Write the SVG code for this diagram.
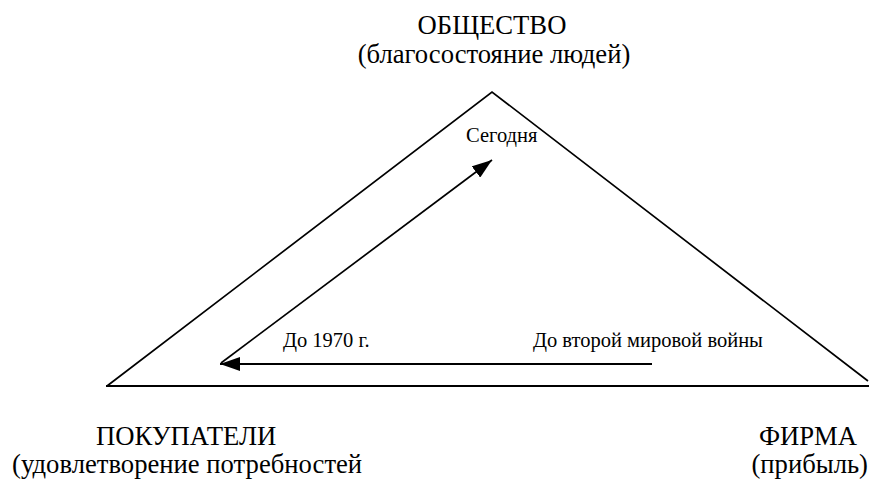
<svg xmlns="http://www.w3.org/2000/svg" width="869" height="480" viewBox="0 0 869 480">
<style>
.big { font-size: 26.67px; }
.small { font-size: 20.5px; }
.ln { stroke: #000; stroke-width: 2; fill: none; }
.thin { stroke: #000; stroke-width: 1.7; fill: none; }
</style>
<defs>
<marker id="ah2" viewBox="0 0 20 14" refX="20" refY="7" markerWidth="20" markerHeight="14" markerUnits="userSpaceOnUse" orient="auto">
<path d="M0,0 L20,7 L0,14 z" fill="#000"/>
</marker>
</defs>
<rect width="869" height="480" fill="#fff"/>
<g id="triangle">
<path class="thin" d="M107,386 L492,92 L868,381"/>
<line class="ln" x1="106" y1="386" x2="869" y2="386"/>
</g>
<g font-family="Liberation Serif, Times New Roman, DejaVu Serif, serif" fill="#000">
<g id="society">
<text class="big" x="492" y="34" text-anchor="middle">ОБЩЕСТВО</text>
<text class="big" x="494" y="63" text-anchor="middle">(благосостояние людей)</text>
</g>
<g id="buyers">
<text class="big" x="96" y="445">ПОКУПАТЕЛИ</text>
<text class="big" x="12" y="473">(удовлетворение потребностей</text>
</g>
<g id="firm">
<text class="big" x="857" y="445" text-anchor="end">ФИРМА</text>
<text class="big" x="868" y="473" text-anchor="end">(прибыль)</text>
</g>
<g id="labels">
<text class="small" x="466" y="142">Сегодня</text>
<text class="small" x="283" y="347">До 1970 г.</text>
<text class="small" x="533" y="347">До второй мировой войны</text>
</g>
</g>
<g id="connectors">
<line class="ln" x1="652" y1="364" x2="220" y2="364" marker-end="url(#ah2)"/>
<line class="thin" x1="221" y1="363" x2="492" y2="160" marker-end="url(#ah2)"/>
</g>
</svg>
